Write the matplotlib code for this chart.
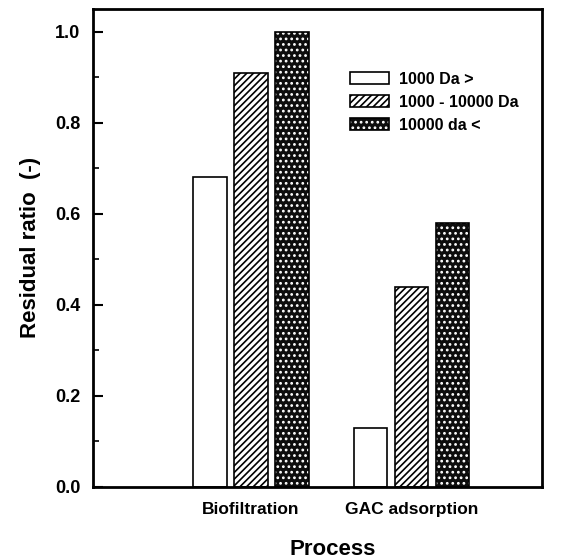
import numpy as np
import matplotlib.pyplot as plt
from matplotlib.patches import Patch

processes = ["Biofiltration", "GAC adsorption"]
fractions = ["1000 Da >", "1000 - 10000 Da", "10000 da <"]
small = [0.68, 0.13]
medium = [0.91, 0.44]
large = [1.00, 0.58]

plt.rcParams["font.family"] = ["Liberation Sans", "DejaVu Sans"]
plt.rcParams["font.weight"] = "bold"
plt.rcParams["hatch.linewidth"] = 1.2

fig = plt.figure(figsize=(5.74, 5.59), dpi=100)
ax = fig.add_axes([0.162, 0.129, 0.782, 0.855])

x = np.arange(1, len(processes) + 1)
w = 0.21
step = 0.255

ax.bar(x - step, small, w, facecolor="white", edgecolor="black", linewidth=1.2)
ax.bar(x, medium, w, facecolor="white", edgecolor="black", hatch="/////", linewidth=1.2)
# dark dotted fill for the large fraction, outline drawn on top
ax.bar(x + step, large, w, facecolor="#0d0d0d", edgecolor="white", hatch="...", linewidth=0)
ax.bar(x + step, large, w, fill=False, edgecolor="black", linewidth=1.2)

handles = [
    Patch(facecolor="white", edgecolor="black", linewidth=1.2),
    Patch(facecolor="white", edgecolor="black", hatch="/////", linewidth=1.2),
    (Patch(facecolor="#0d0d0d", edgecolor="white", hatch="...", linewidth=0),
     Patch(fill=False, edgecolor="black", linewidth=1.2)),
]
ax.legend(handles, fractions, loc="upper left", bbox_to_anchor=(0.555, 0.885),
          frameon=False, fontsize=11.5, handlelength=2.45, handleheight=0.75,
          handletextpad=0.6, labelspacing=0.5, borderpad=0)

ax.set_xlim(0.02, 2.81)
ax.set_ylim(0, 1.05)
ax.set_xticks(x)
ax.set_xticklabels(processes, fontsize=12.5, fontweight="bold")
ax.tick_params(axis="x", length=0, pad=11)
ax.set_yticks(np.arange(0, 1.01, 0.2))
ax.set_yticks(np.arange(0, 1.01, 0.1), minor=True)
ax.set_yticklabels(["%.1f" % v for v in np.arange(0, 1.01, 0.2)], fontsize=13, fontweight="bold")
ax.tick_params(axis="y", which="major", direction="in", length=7, width=1.5, pad=9)
ax.tick_params(axis="y", which="minor", direction="in", length=4, width=1.2)
for s in ax.spines.values():
    s.set_linewidth(2)

ax.set_ylabel("Residual ratio  (-)", fontsize=16, fontweight="bold", labelpad=10)
ax.set_xlabel("Process", fontsize=16, fontweight="bold")
ax.xaxis.set_label_coords(0.535, -0.108)

fig.savefig("out.png", dpi=100)
